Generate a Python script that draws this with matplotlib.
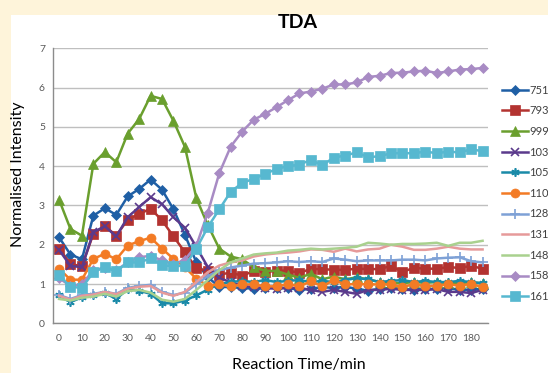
import matplotlib
matplotlib.use("Agg")
import matplotlib.pyplot as plt
from matplotlib.patches import Rectangle

plt.rcParams['font.family'] = ['Lato', 'DejaVu Sans']

times = list(range(0, 190, 5))  # 0..185 min

labels = ["751", "793", "999", "103", "105", "110", "128", "131", "148", "158", "161"]

s751 = [2.19, 1.75, 1.63, 2.74, 2.93, 2.76, 3.23, 3.42, 3.66, 3.40, 2.90, 2.25, 1.55, 1.17,
        0.93, 0.92, 0.90, 0.88, 0.89, 0.91, 0.90, 0.85, 0.88, 0.92, 0.90, 0.93, 0.88, 0.83,
        0.88, 0.90, 0.87, 0.86, 0.88, 0.87, 0.90, 0.85, 0.86, 0.88]
s793 = [1.90, 1.51, 1.45, 2.28, 2.48, 2.23, 2.64, 2.78, 2.92, 2.62, 2.21, 1.81, 1.40, 1.33,
        1.24, 1.29, 1.21, 1.33, 1.30, 1.34, 1.34, 1.29, 1.38, 1.38, 1.36, 1.36, 1.39, 1.38,
        1.38, 1.46, 1.31, 1.41, 1.39, 1.39, 1.43, 1.41, 1.46, 1.39]
s999 = [3.15, 2.40, 2.23, 4.06, 4.36, 4.10, 4.83, 5.20, 5.79, 5.71, 5.15, 4.49, 3.18, 2.50,
        1.90, 1.70, 1.63, 1.43, 1.34, 1.33, 1.24, 1.16, 1.26, 1.12, 1.19, 1.12, 1.17, 1.12,
        1.05, 1.03, 1.02, 1.05, 1.03, 1.05, 1.02, 1.03, 1.04, 1.02]
s103 = [1.87, 1.46, 1.43, 2.32, 2.47, 2.21, 2.70, 2.96, 3.21, 3.03, 2.70, 2.43, 1.94, 1.43,
        1.15, 1.05, 0.95, 0.92, 0.90, 0.88, 0.90, 0.90, 0.85, 0.80, 0.85, 0.80, 0.75, 0.85,
        0.85, 0.88, 0.85, 0.85, 0.85, 0.87, 0.80, 0.80, 0.77, 0.85]
s105 = [0.71, 0.54, 0.66, 0.71, 0.77, 0.62, 0.87, 0.83, 0.75, 0.51, 0.51, 0.58, 0.71, 0.86,
        1.00, 1.05, 1.08, 1.05, 1.10, 1.05, 1.08, 1.10, 1.05, 1.08, 1.05, 1.10, 1.15, 1.12,
        1.05, 1.08, 1.10, 1.05, 1.08, 1.05, 1.05, 1.08, 1.05, 1.02]
s110 = [1.39, 1.11, 1.11, 1.64, 1.77, 1.63, 1.98, 2.09, 2.18, 1.90, 1.64, 1.43, 1.13, 0.96,
        0.99, 0.94, 0.99, 0.99, 0.94, 0.94, 1.00, 0.94, 1.07, 0.94, 1.10, 0.99, 1.00, 0.99,
        0.99, 0.99, 0.92, 1.00, 0.94, 0.96, 0.99, 0.96, 1.00, 0.92]
s128 = [0.72, 0.62, 0.72, 0.75, 0.80, 0.75, 0.90, 0.95, 0.98, 0.80, 0.72, 0.78, 1.00, 1.20,
        1.35, 1.42, 1.47, 1.52, 1.53, 1.55, 1.58, 1.56, 1.58, 1.56, 1.65, 1.62, 1.58, 1.60,
        1.60, 1.60, 1.62, 1.62, 1.60, 1.65, 1.67, 1.68, 1.58, 1.55]
s131 = [0.70, 0.60, 0.70, 0.73, 0.80, 0.74, 0.88, 0.93, 0.95, 0.78, 0.70, 0.80, 1.05, 1.30,
        1.47, 1.55, 1.60, 1.70, 1.75, 1.78, 1.80, 1.83, 1.88, 1.87, 1.82, 1.90, 1.83, 1.88,
        1.90, 2.00, 1.95, 1.87, 1.87, 1.90, 1.95, 1.90, 1.88, 1.88]
s148 = [0.62, 0.58, 0.65, 0.68, 0.75, 0.68, 0.82, 0.85, 0.78, 0.60, 0.55, 0.62, 0.85, 1.10,
        1.35, 1.55, 1.65, 1.75, 1.78, 1.80, 1.85, 1.87, 1.90, 1.88, 1.90, 1.92, 1.95, 2.05,
        2.03, 2.00, 2.02, 2.02, 2.03, 2.05, 1.97, 2.05, 2.05, 2.10]
s158 = [1.15, 0.95, 1.00, 1.35, 1.42, 1.35, 1.55, 1.68, 1.72, 1.60, 1.50, 1.62, 1.98, 2.82,
        3.82, 4.50, 4.88, 5.18, 5.33, 5.50, 5.68, 5.85, 5.90, 5.97, 6.08, 6.08, 6.13, 6.27,
        6.30, 6.37, 6.38, 6.41, 6.43, 6.37, 6.41, 6.46, 6.47, 6.50]
s161 = [1.22, 0.93, 0.90, 1.30, 1.43, 1.32, 1.55, 1.55, 1.65, 1.48, 1.45, 1.47, 1.90, 2.45,
        2.90, 3.35, 3.57, 3.68, 3.80, 3.93, 4.00, 4.04, 4.16, 4.02, 4.22, 4.27, 4.35, 4.23,
        4.25, 4.33, 4.33, 4.33, 4.37, 4.33, 4.37, 4.35, 4.43, 4.38]

series = [s751, s793, s999, s103, s105, s110, s128, s131, s148, s158, s161]
colors = ["#1F5FA5", "#B33330", "#6A9F2E", "#5B3A8C", "#1A8AA8", "#F37B25",
          "#7EA1D6", "#E69A9A", "#A9D18E", "#A88BC4", "#57B8D0"]
markers = ["D", "s", "^", "x", (6, 2, 0), "o", "+", None, None, "D", "s"]
msizes = [5, 6.5, 6.5, 6, 6, 6.5, 7, 0, 0, 5, 7.5]

fig = plt.figure(figsize=(5.48, 3.73), dpi=100)
fig.patch.set_facecolor("#FEF4DA")
fig.add_artist(Rectangle((11 / 548, 0), 1, 1 - 15 / 373, transform=fig.transFigure,
                         facecolor="white", edgecolor="none", zorder=0))

ax = fig.add_axes([53.3 / 548, 1 - 323.3 / 373, (488.3 - 53.3) / 548, (323.3 - 48.3) / 373])
ax.set_facecolor("none")

for lab, ys, c, m, ms in zip(labels, series, colors, markers, msizes):
    ax.plot(times, ys, color=c, lw=1.8, marker=m, markersize=ms,
            markeredgewidth=1.2 if m in ("x", "+", (6, 2, 0)) else 0.5,
            markeredgecolor=c, markerfacecolor=c, label=lab)

ax.set_xlim(-2.5, 187.5)
ax.set_ylim(0, 7)
ax.set_xticks(list(range(0, 190, 10)))
ax.set_yticks(range(0, 8))
ax.tick_params(axis="both", length=0, labelsize=7.5, colors="#595959", pad=6)
ax.tick_params(axis="x", pad=8)
ax.grid(axis="y", color="#BFBFBF", lw=1)
ax.set_axisbelow(True)
for sp in ["top", "right"]:
    ax.spines[sp].set_visible(False)
for sp in ["left", "bottom"]:
    ax.spines[sp].set_color("#8C8C8C")
    ax.spines[sp].set_linewidth(1)

fig.text(298 / 548, 1 - 22 / 373, "TDA", ha="center", va="center",
         fontsize=14, fontweight="bold", color="#000000")
fig.text(18.3 / 548, 1 - 174 / 373, "Normalised Intensity", rotation=90,
         ha="center", va="center", fontsize=11.5, color="#000000")
fig.text(299 / 548, 1 - 365 / 373, "Reaction Time/min", ha="center", va="center",
         fontsize=11.5, color="#000000")

leg = ax.legend(loc="upper left", bbox_to_anchor=(502 / 548, 1 - 84.5 / 373),
                bbox_transform=fig.transFigure, frameon=False, fontsize=8,
                handlelength=2.3, handletextpad=0.15, labelspacing=0.87,
                borderpad=0, borderaxespad=0, labelcolor="#404040")

fig.savefig("out.png", dpi=100, facecolor=fig.get_facecolor())
